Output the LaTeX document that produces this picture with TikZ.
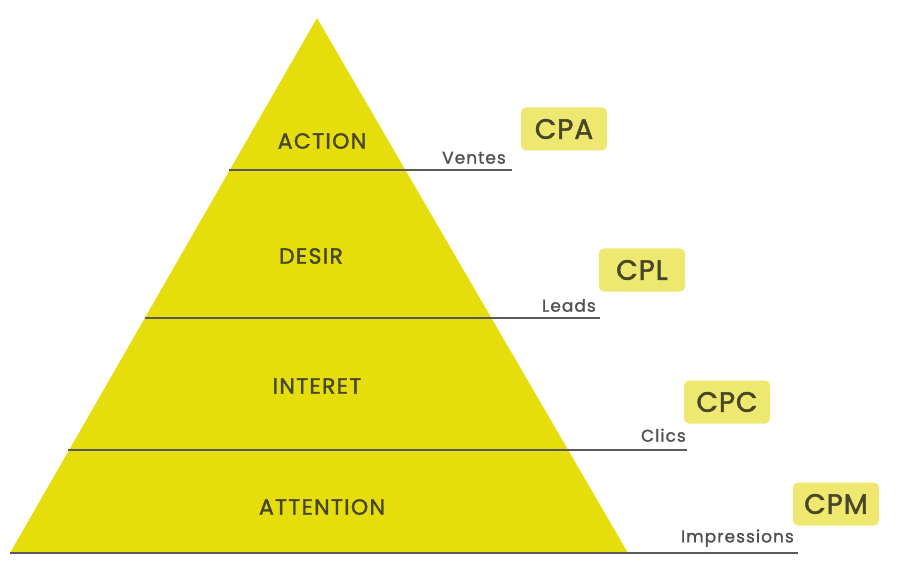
\documentclass[tikz,border=0pt]{standalone}
\usepackage{fontspec}
\setmainfont{Poppins}
\newfontfamily\pyrfont[LetterSpace=6,FakeBold=1.6]{Poppins}
\newfontfamily\sidefont[LetterSpace=6,FakeBold=1.3]{Poppins}
\newfontfamily\badgefont[LetterSpace=3,FakeBold=1.6]{Poppins}
\definecolor{pyryellow}{RGB}{230,221,12}
\definecolor{badgeyellow}{RGB}{238,232,112}
\definecolor{pyrtext}{RGB}{72,70,40}
\definecolor{sidetext}{RGB}{80,80,80}
\definecolor{linegray}{RGB}{90,90,90}
\begin{document}
\begin{tikzpicture}[x=1pt,y=-1pt,
  level/.style={font=\pyrfont\fontsize{22}{24}\selectfont, text=pyrtext, inner sep=0pt},
  side/.style={font=\sidefont\fontsize{17}{19}\selectfont, text=sidetext, inner sep=0pt, anchor=south east},
  badge/.style={fill=badgeyellow, rounded corners=5pt, minimum width=86pt, minimum height=43pt, inner sep=0pt,
    font=\badgefont\fontsize{28}{30}\selectfont, text=pyrtext},
  sep/.style={draw=linegray, line width=1.2pt}]
\useasboundingbox (0,0) rectangle (898,567);
\fill[white] (0,0) rectangle (898,567);
% pyramid
\coordinate (apex) at (317,18);
\coordinate (bl) at (10,553);
\coordinate (br) at (628,553);
\fill[pyryellow] (apex) -- (br) -- (bl) -- cycle;
% separator lines
\coordinate (l1a) at (229,170); \coordinate (l1b) at (512,170);
\coordinate (l2a) at (145,318); \coordinate (l2b) at (600,318);
\coordinate (l3a) at (68,450);  \coordinate (l3b) at (687,450);
\coordinate (l4a) at (10,553);  \coordinate (l4b) at (798,553);
\draw[sep] (l1a) -- (l1b);
\draw[sep] (l2a) -- (l2b);
\draw[sep] (l3a) -- (l3b);
\draw[sep] (l4a) -- (l4b);
% level labels
\node[level] (action) at (322,141) {ACTION};
\node[level] (desir) at (311,256) {DESIR};
\node[level] (interet) at (317,386) {INTERET};
\node[level] (attention) at (322,507) {ATTENTION};
% side labels
\node[side] (ventes) at (506,164) {Ventes};
\node[side] (leads) at (596,312) {Leads};
\node[side] (clics) at (686,442) {Clics};
\node[side] (impr) at (794,547) {Impressions};
% badges
\node[badge] (cpa) at (564,129) {CPA};
\node[badge] (cpl) at (642,270) {CPL};
\node[badge] (cpc) at (727,402) {CPC};
\node[badge] (cpm) at (836,504) {CPM};
\end{tikzpicture}
\end{document}
